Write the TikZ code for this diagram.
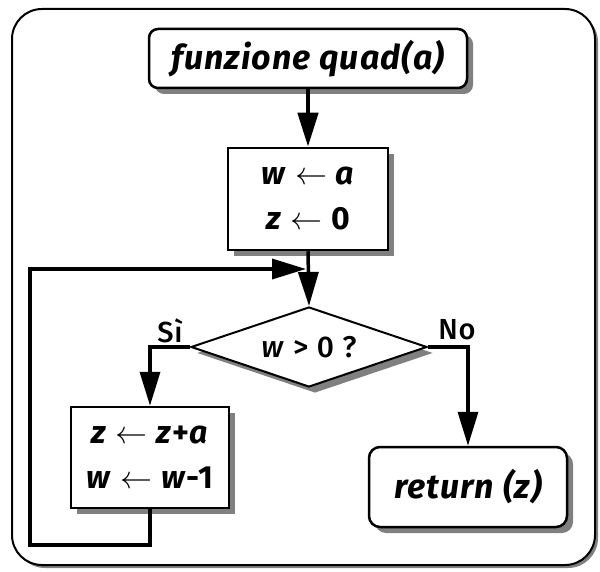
\documentclass[tikz,border=0pt]{standalone}
\usepackage{fix-cm}
\usepackage{fontspec}
\setmainfont{Fira Sans}[LetterSpace=3]
\newfontfamily\firamed{Fira Sans Medium}[LetterSpace=3]
\usetikzlibrary{shapes.geometric,arrows.meta,shadows}
\newcommand{\myarr}{{\mdseries$\leftarrow$}}
\begin{document}
\begin{tikzpicture}[x=1pt,y=-1pt,
  shad/.style={drop shadow={shadow xshift=#1,shadow yshift=-#1,fill=black!50,opacity=1}},
  frame/.style={draw,line width=2pt,rounded corners=30pt,fill=white,shad=3pt,inner sep=0pt},
  term/.style={draw,line width=2.5pt,rounded corners=9pt,fill=white,shad=6pt,inner sep=0pt,
    font=\fontsize{34}{40}\selectfont\bfseries\itshape},
  proc/.style={draw,line width=2.5pt,fill=white,shad=6pt,inner sep=0pt,align=center,
    font=\fontsize{32}{45}\selectfont\bfseries},
  dec/.style={draw,diamond,shape aspect=2.95,line width=2pt,fill=white,shad=6pt,inner sep=0pt,
    font=\fontsize{30}{34}\firamed\selectfont},
  conn/.style={line width=3.5pt,-{Triangle[length=34pt,width=20pt]}},
  lbl/.style={font=\fontsize{29}{32}\firamed\selectfont,inner sep=0pt}
]
\useasboundingbox (0,0) rectangle (600,572);
\node[frame,minimum width=583pt,minimum height=556pt] (frame) at (303.5,287) {};

\node[term,minimum width=318pt,minimum height=59pt] (start) at (308,58.5) {funzione quad(a)};
\node[proc,minimum width=160pt,minimum height=102pt] (box1) at (308,199)
  {\textit{w} \myarr{} \textit{a}\\\textit{z} \myarr{} 0};
\node[dec,minimum width=236pt,minimum height=80pt] (dia) at (309,347) {\textit{w} > 0 ?};
\node[proc,minimum width=158pt,minimum height=101pt] (box2) at (150,457.5)
  {\textit{z} \myarr{} \textit{z}+\textit{a}\\\textit{w} \myarr{} \textit{w}-1};
\node[term,minimum width=198pt,minimum height=80pt,rounded corners=11pt] (ret) at (468,487) {return (z)};

\node[lbl] (si) at (170,331) {Sì};
\node[lbl] (no) at (457,330) {No};

\coordinate (lb) at (30,545);
\coordinate (lt) at (30,269);
\coordinate (loopend) at (306,269);

\draw[conn,line width=4.5pt] (start.south) -- (box1.north);
\draw[conn] (box1.south) -- (dia.north);
\draw[conn] (dia.west) -| (box2.north);
\draw[conn] (dia.east) -| (ret.north);
\draw[conn] (box2.south) |- (lb) -- (lt) -- (loopend);
\end{tikzpicture}
\end{document}
